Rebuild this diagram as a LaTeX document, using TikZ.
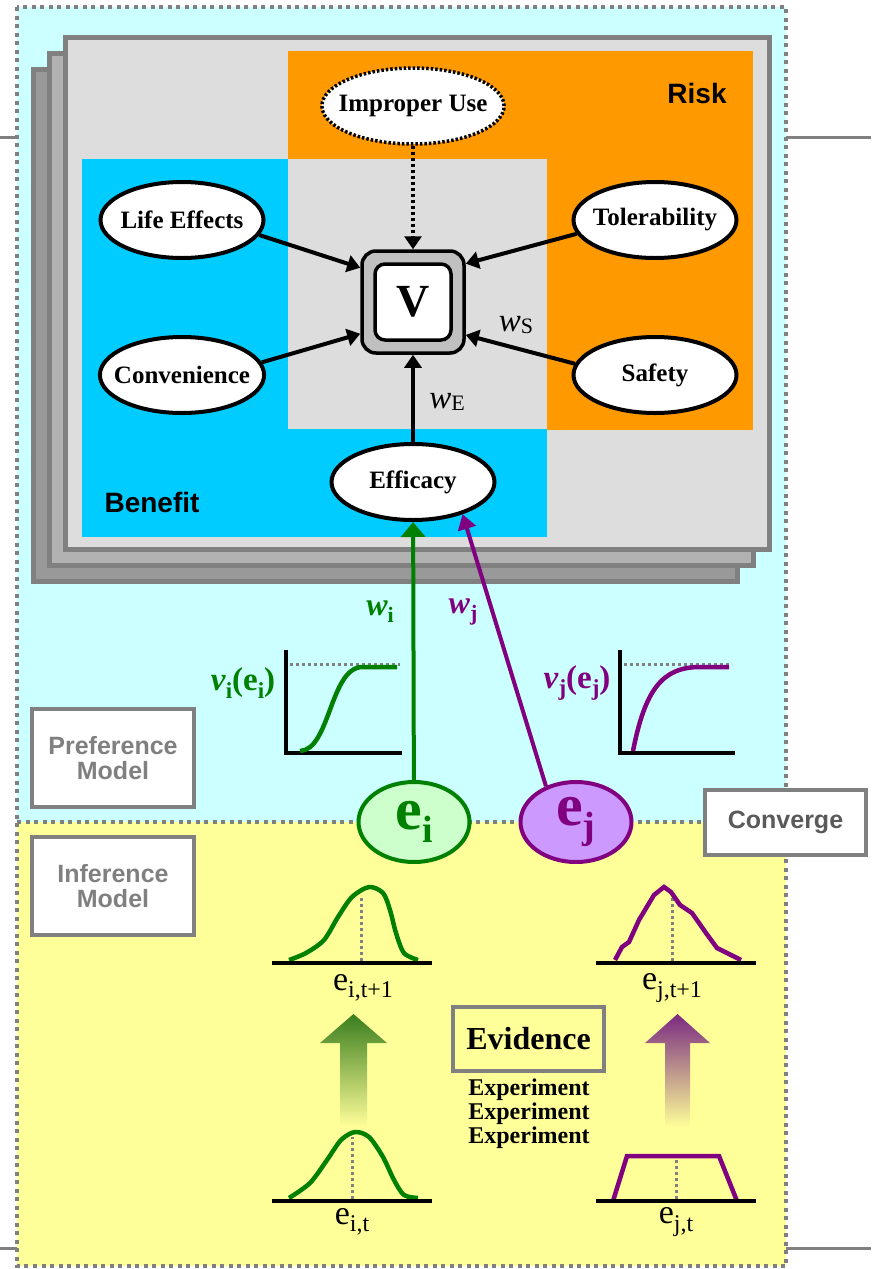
\documentclass[tikz,border=0pt]{standalone}
\usepackage{fontspec}
\setmainfont{Liberation Serif}
\setsansfont{Liberation Sans}
\usetikzlibrary{arrows.meta,shapes.geometric}

\definecolor{bgcyan}{HTML}{CCFFFF}
\definecolor{bgyellow}{HTML}{FFFF99}
\definecolor{frame}{HTML}{808080}
\definecolor{riskorange}{HTML}{FF9900}
\definecolor{benblue}{HTML}{00CCFF}
\definecolor{panel}{HTML}{DDDDDD}
\definecolor{midpanel}{HTML}{B2B2B2}
\definecolor{backpanel}{HTML}{999999}
\definecolor{vgray}{HTML}{C0C0C0}
\definecolor{egreen}{HTML}{008000}
\definecolor{epurple}{HTML}{800080}
\definecolor{lgreen}{HTML}{CCFFCC}
\definecolor{lpurple}{HTML}{CC99FF}
\definecolor{agreen}{HTML}{3A7D1E}
\definecolor{apurple}{HTML}{7A2A80}

\newcommand{\fsz}[1]{\fontsize{#1}{#1}\selectfont}
\newcommand{\subsc}[2]{\raisebox{-0.22em}{\fontsize{#1}{#1}\selectfont #2}}

\begin{document}
\begin{tikzpicture}
  [x=1pt,y=-1pt,
   oval/.style={ellipse,draw,line width=4pt,fill=white,minimum width=163pt,
     minimum height=76pt,inner ysep=0pt,inner xsep=-10pt,font=\fsz{25}\bfseries},
   arr/.style={line width=4pt,-{Triangle[length=13pt,width=17pt]}},
   modelbox/.style={draw=frame,line width=4pt,fill=white,align=center,
     minimum width=162pt,font=\sffamily\bfseries\fsz{25},text=frame},
   evar/.style={ellipse,line width=4pt,minimum width=111pt,minimum height=80pt,
     inner sep=0pt,font=\fsz{60}\bfseries},
   base/.style={line width=4.5pt},
   guide/.style={draw=frame,line width=3pt,dash pattern=on 3pt off 3pt},
   pdf/.style={line width=4.5pt}]

  \useasboundingbox (0,0) rectangle (871,1269);
  \fill[white] (0,0) rectangle (871,1269);

  % preference and inference areas
  \fill[bgcyan] (17,7) rectangle (786,822);
  \fill[bgyellow] (17,822) rectangle (786,1266);
  \draw[frame,line width=4pt,dash pattern=on 4pt off 4.5pt]
    (17,7) rectangle (786,1266) (17,822) -- (786,822);
  \draw[frame,line width=3pt] (0,137) -- (17,137) (786,137) -- (871,137)
    (0,1248) -- (17,1248) (786,1248) -- (871,1248);

  % stacked panels
  \foreach \off/\tone in {32/backpanel,16/midpanel,0/panel}
    \draw[frame,fill=\tone,line width=5pt]
      (65.5-\off,37.5+\off) rectangle (769.5-\off,549.5+\off);

  \fill[riskorange] (288,51) rectangle (753,430);
  \fill[benblue] (82,159) rectangle (547,537);
  \fill[panel] (288,159) rectangle (547,429);

  \node (risk) at (697,93) [font=\sffamily\bfseries\fsz{28}] {Risk};
  \node (benefit) at (152,502) [font=\sffamily\bfseries\fsz{28}] {Benefit};

  \node (imp) at (413,106) [oval,line width=3.5pt,dash pattern=on 2.5pt off 2pt] {Improper Use};
  \node (life) at (182,220) [oval] {Life Effects};
  \node (conv) at (182,375) [oval] {Convenience};
  \node (tol) at (655,220) [oval] {Tolerability};
  \node (safety) at (655,375) [oval] {Safety};
  \node (eff) at (413,482) [oval] {Efficacy};

  \node (V) at (413,302) [draw,line width=3.5pt,fill=vgray,rounded corners=14pt,
    minimum size=102pt] {};
  \node (Vin) at (V) [draw,line width=3.5pt,fill=white,rounded corners=10pt,
    minimum size=76pt,font=\fsz{46}\bfseries] {V};

  \foreach \from/\to in {life.-11/V.147,conv.9/V.211,tol.190/V.36,safety.172/V.-32,eff/V}
    \draw[arr] (\from) -- (\to);
  \draw[arr,line width=3.5pt,dash pattern=on 3pt off 3pt] (imp) -- (V);

  \node (ws) at (516,325) {{\fsz{33}\itshape w}\subsc{22}{S}};
  \node (we) at (447,402) {{\fsz{33}\itshape w}\subsc{22}{E}};

  % attributes
  \node (ei) at (414,822) [evar,draw=egreen,fill=lgreen,text=egreen] {e\subsc{38}{i}};
  \node (ej) at (576,822) [evar,draw=epurple,fill=lpurple,text=epurple] {e\subsc{38}{j}};

  \draw[egreen,line width=4pt,-{Triangle[length=15pt,width=24pt]}] (ei) -- (eff);
  \draw[epurple,line width=4pt,-{Triangle[length=15pt,width=18pt]}] (ej.130) -- (eff.-33);

  \node (wi) at (380,612) [text=egreen] {\fsz{32}\bfseries\itshape w\subsc{22}{\upshape i}};
  \node (wj) at (463,612) [text=epurple] {\fsz{32}\bfseries\itshape w\subsc{22}{\upshape j}};

  % value functions
  \node (vi) at (243,683) [text=egreen,font=\fsz{33}\bfseries] {\textit{v}\subsc{23}{i}(e\subsc{23}{i})};
  \node (vj) at (577,683) [text=epurple,font=\fsz{33}\bfseries] {\textit{v}\subsc{23}{j}(e\subsc{23}{j})};
  \draw[guide] (290,664) -- (400,664);
  \draw[guide] (624,664) -- (732,664);
  \draw[base] (286,650) -- (286,753) -- (402,753);
  \draw[base] (620,650) -- (620,753) -- (735,753);
  \draw[egreen,pdf] (300,751) .. controls (330,750) and (330,668) .. (362,667) -- (397,667);
  \draw[epurple,pdf] (633,751) .. controls (645,690) and (662,667) .. (700,667) -- (729,667);

  \node (pref) at (113,758) [modelbox,minimum height=98pt] {Preference\\Model};
  \node (infer) at (113,886) [modelbox,minimum height=98pt] {Inference\\Model};
  \node (converge) at (785.5,822.5) [modelbox,minimum width=161pt,minimum height=65pt,
    text=frame!70!black] {Converge};

  % beliefs before and after evidence
  \draw[guide] (361,961) -- (361,895);
  \draw[guide] (352,1199) -- (352,1137);
  \draw[guide] (672,961) -- (672,892);
  \draw[guide] (676,1199) -- (676,1158);
  \draw[egreen,pdf] plot[smooth] coordinates {(289,960) (306,953) (324,940) (338,917)
    (352,897) (369,887) (383,893) (390,910) (396,933) (404,953) (418,960)};
  \draw[egreen,pdf] plot[smooth] coordinates {(289,1198) (310,1183) (327,1160) (341,1140)
    (355,1132) (369,1137) (383,1157) (394,1180) (404,1195) (418,1198)};
  \draw[epurple,pdf] plot coordinates {(615,960) (622,947) (629,942) (639,920) (654,895)
    (664,887) (671,892) (680,905) (692,913) (699,923) (706,933) (717,948) (727,953) (741,960)};
  \draw[epurple,pdf] (613,1201) -- (627,1156) -- (719,1156) -- (737,1201);
  \draw[base] (272,963) -- (432,963);
  \draw[base] (272,1201) -- (432,1201);
  \draw[base] (596,963) -- (756,963);
  \draw[base] (596,1201) -- (756,1201);

  \node (eit1) at (363,988) [font=\fsz{34}] {e\subsc{24}{i,t+1}};
  \node (eit) at (352,1222) [font=\fsz{34}] {e\subsc{24}{i,t}};
  \node (ejt1) at (672,988) [font=\fsz{34}] {e\subsc{24}{j,t+1}};
  \node (ejt) at (676,1222) [font=\fsz{34}] {e\subsc{24}{j,t}};

  \shade[top color=agreen,bottom color=bgyellow] (340,1127) -- (340,1043) -- (320,1043)
    -- (353.5,1014) -- (387,1043) -- (367,1043) -- (367,1127) -- cycle;
  \shade[top color=apurple,bottom color=bgyellow] (665,1127) -- (665,1043) -- (645,1043)
    -- (677.5,1014) -- (710,1043) -- (690,1043) -- (690,1127) -- cycle;

  \node (evid) at (528.5,1039) [draw=frame,line width=4pt,minimum width=151pt,
    minimum height=64pt,font=\fsz{32}\bfseries] {Evidence};
  \node (expts) at (529,1114) [align=center,font=\fsz{24}\bfseries]
    {Experiment\\Experiment\\Experiment};

\end{tikzpicture}
\end{document}
